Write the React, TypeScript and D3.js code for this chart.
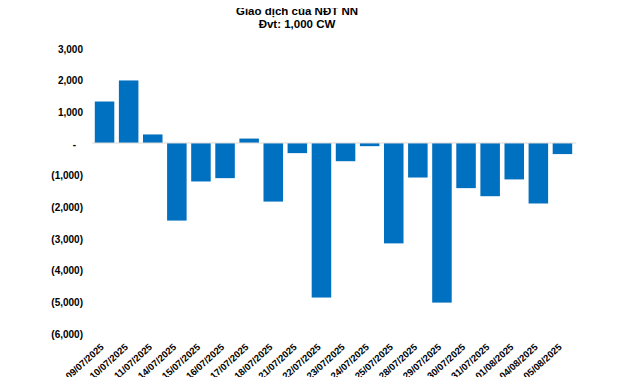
import * as d3 from "d3";
import { useEffect, useRef } from "react";

// Giá trị giao dịch ròng (1,000 CW)
const dates = [
  "09/07/2025", "10/07/2025", "11/07/2025", "14/07/2025", "15/07/2025",
  "16/07/2025", "17/07/2025", "18/07/2025", "21/07/2025", "22/07/2025",
  "23/07/2025", "24/07/2025", "25/07/2025", "28/07/2025", "29/07/2025",
  "30/07/2025", "31/07/2025", "01/08/2025", "04/08/2025", "05/08/2025",
];
const values = [
  1310, 1975, 270, -2450, -1215,
  -1110, 140, -1850, -320, -4880,
  -575, -100, -3170, -1090, -5040,
  -1425, -1680, -1150, -1910, -350,
];
const yTicks = [3000, 2000, 1000, 0, -1000, -2000, -3000, -4000, -5000, -6000];

const fmt = d3.format(",");
const tickLabel = (v: number) => (v === 0 ? "-" : v < 0 ? `(${fmt(-v)})` : fmt(v));

const App = () => {
  const svgRef = useRef<SVGSVGElement>(null);

  useEffect(() => {
    const svg = d3.select(svgRef.current);
    svg.selectAll("*").remove();

    const width = 640;
    const height = 385;
    const font = "'Liberation Sans', Arial, sans-serif";

    svg.attr("width", width).attr("height", height).style("font-family", font);

    const x = d3.scaleBand().domain(dates).range([92.5, 574.5]).paddingInner(0.19).paddingOuter(0.095);
    const y = d3.scaleLinear().domain([-6000, 3000]).range([333, 48]);

    // Tiêu đề
    const title = svg.append("g").attr("font-weight", "bold").attr("font-size", 11.5).attr("text-anchor", "middle");
    title.append("text").attr("x", 297).attr("y", 15).text("Giao dịch của NĐT NN");
    title.append("text").attr("x", 297).attr("y", 28).text("Đvt: 1,000 CW");

    // Trục Y
    svg.append("g")
      .selectAll("text")
      .data(yTicks)
      .enter()
      .append("text")
      .attr("x", (d) => (d === 0 ? 76 : 83))
      .attr("y", (d) => y(d) + 1)
      .attr("dy", "0.35em")
      .attr("text-anchor", "end")
      .attr("font-size", 10)
      .attr("font-weight", "bold")
      .text((d) => tickLabel(d));

    // Cột
    svg.append("g")
      .selectAll("rect")
      .data(values)
      .enter()
      .append("rect")
      .attr("x", (_, i) => x(dates[i])!)
      .attr("width", x.bandwidth())
      .attr("y", (d) => y(Math.max(0, d)))
      .attr("height", (d) => Math.abs(y(d) - y(0)))
      .attr("fill", "#0070C0");

    // Đường 0
    svg.append("line")
      .attr("x1", 92)
      .attr("x2", 576)
      .attr("y1", y(0))
      .attr("y2", y(0))
      .attr("stroke", "#D9D9D9")
      .attr("stroke-width", 1.2);

    // Nhãn trục X
    svg.append("g")
      .selectAll("text")
      .data(dates)
      .enter()
      .append("text")
      .attr("transform", (d) => `translate(${x(d)! + x.bandwidth() / 2},${348}) rotate(-42)`)
      .attr("text-anchor", "end")
      .attr("font-size", 9.5)
      .attr("font-weight", "bold")
      .text((d) => d);
  }, []);

  return <svg ref={svgRef} style={{ display: "block", margin: -8 }}></svg>;
};

export default App;
